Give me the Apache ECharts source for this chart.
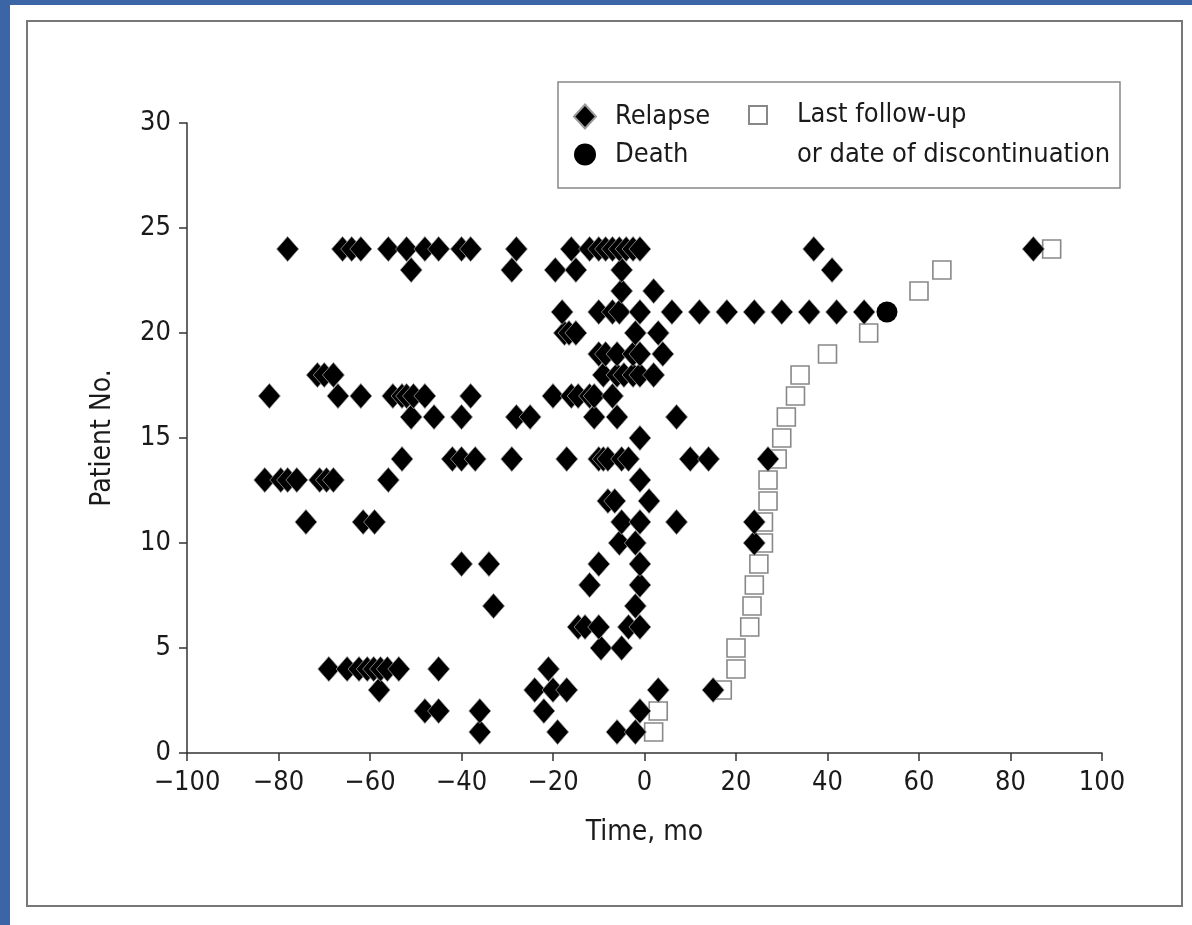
<!DOCTYPE html>
<html>
<head>
<meta charset="utf-8">
<script src="https://cdn.jsdelivr.net/npm/echarts@6/dist/echarts.min.js"></script>
<style>
  html, body { margin: 0; padding: 0; background: #fff; }
  #chart { width: 1192px; height: 925px; }
</style>
</head>
<body>
<div id="chart"></div>
<script>
// relapse times (months) for patients 1..24
const relapseTimes = [
  [-36, -19, -6, -2],
  [-48, -45, -36, -22, -1],
  [-58, -24, -20, -17, 3, 15],
  [-69, -65, -62.4, -60.6, -59.2, -57.7, -56.2, -53.7, -45, -21],
  [-9.5, -5],
  [-14.5, -13, -10, -3.5, -1],
  [-33, -2],
  [-12, -1],
  [-40, -34, -10, -1],
  [-5.5, -2, 24],
  [-74, -61.5, -59, -5, -1, 7, 24],
  [-8, -6.5, 1],
  [-83, -79.5, -78, -76, -71, -69.5, -68, -56, -1],
  [-53, -42, -40, -37, -29, -17, -10, -9, -8, -5, -3.5, 10, 14, 27],
  [-1],
  [-51, -46, -40, -28, -25, -11, -6, 7],
  [-82, -67, -62, -55, -53, -52, -50.5, -48, -38, -20, -16, -14.5, -12, -11, -7],
  [-71.5, -70, -68, -9, -6, -4.5, -2.5, -1, 2],
  [-10, -8.5, -6, -2.5, -1, 4],
  [-17.5, -16.5, -15, -2, 3],
  [-18, -10, -7, -5.5, -1, 6, 12, 18, 24, 30, 36, 42, 48],
  [-5, 2],
  [-51, -29, -19.5, -15, -5, 41],
  [-78, -66, -64, -62, -56, -52, -48, -45, -40, -38, -28, -16, -12, -10, -8.5, -7, -5.5, -4, -2.5, -1, 37, 85]
]
// last follow-up or discontinuation (months), patients 1..24 (21 hidden under death mark)
const lastFollowUp = [2, 3, 17, 20, 20, 23, 23.5, 24, 25, 26, 26, 27, 27, 29, 30, 31, 33, 34, 40, 49, null, 60, 65, 89]
const deathPatients = [21]
const deathTimes = [53]

const xTicks = {min: -100, max: 100, interval: 20}
const yTicks = {min: 0, max: 30, interval: 5}

const font = '"Liberation Sans Narrow", "DejaVu Sans Condensed", "Roboto Condensed", sans-serif'
const ink = '#1a1a1a'

const relapseData = []
relapseTimes.forEach((times, i) => times.forEach(t => relapseData.push([t, i + 1])))
const followData = []
lastFollowUp.forEach((t, i) => { if (t !== null) followData.push([t, i + 1]) })
const deathData = deathTimes.map((t, i) => [t, deathPatients[i]])

const chart = echarts.init(document.getElementById('chart'))
chart.setOption({
  backgroundColor: '#fff',
  animation: false,
  textStyle: {fontFamily: font},
  grid: {left: 187, right: 90, top: 123, bottom: 172},
  graphic: [
    {type: 'rect', shape: {x: 0, y: 0, width: 10, height: 925}, style: {fill: '#3b65a5'}, silent: true},
    {type: 'rect', shape: {x: 0, y: 0, width: 1192, height: 5}, style: {fill: '#3b65a5'}, silent: true},
    {type: 'rect', shape: {x: 27, y: 21, width: 1155, height: 885}, style: {fill: 'none', stroke: '#777', lineWidth: 2}, silent: true},
    {type: 'rect', shape: {x: 558, y: 82, width: 562, height: 106}, style: {fill: 'none', stroke: '#888', lineWidth: 1.5}, silent: true}
  ],
  legend: [
    {
      data: ['Relapse', 'Death'],
      orient: 'vertical',
      left: 568, top: 98,
      itemWidth: 22, itemHeight: 24, itemGap: 11,
      textStyle: {fontSize: 27, color: ink, fontFamily: font, padding: [0, 0, 0, 14]}
    },
    {
      data: ['Last follow-up\nor date of discontinuation'],
      orient: 'vertical',
      left: 743, top: 50,
      itemWidth: 18, itemHeight: 18,
      // blank first line so the icon sits beside the first text line
      formatter: name => '\n' + name,
      textStyle: {fontSize: 27, lineHeight: 40, color: ink, fontFamily: font, padding: [0, 0, 0, 25]}
    }
  ],
  xAxis: {
    type: 'value',
    min: xTicks.min, max: xTicks.max, interval: xTicks.interval,
    name: 'Time, mo', nameLocation: 'middle', nameGap: 66,
    nameTextStyle: {fontSize: 28, color: ink, fontFamily: font},
    axisLine: {onZero: false, lineStyle: {color: '#333', width: 1.5}},
    axisTick: {length: 8, lineStyle: {color: '#333', width: 1.5}},
    splitLine: {show: false},
    axisLabel: {fontSize: 27, color: ink, margin: 16, fontFamily: font,
      formatter: v => String(v).replace('-', '\u2212')}
  },
  yAxis: {
    type: 'value',
    min: yTicks.min, max: yTicks.max, interval: yTicks.interval,
    name: 'Patient No.', nameLocation: 'middle', nameGap: 70,
    nameTextStyle: {fontSize: 28, color: ink, fontFamily: font},
    axisLine: {show: true, onZero: false, lineStyle: {color: '#333', width: 1.5}},
    axisTick: {show: true, length: 8, lineStyle: {color: '#333', width: 1.5}},
    splitLine: {show: false},
    axisLabel: {fontSize: 27, color: ink, margin: 16, fontFamily: font}
  },
  series: [
    {
      name: 'Last follow-up\nor date of discontinuation',
      type: 'scatter',
      symbol: 'rect', symbolSize: 18,
      itemStyle: {color: '#fff', borderColor: '#888', borderWidth: 1.6, opacity: 1},
      data: followData,
      z: 2
    },
    {
      name: 'Relapse',
      type: 'scatter',
      symbol: 'diamond', symbolSize: [22, 25],
      itemStyle: {color: '#000', borderColor: '#9a9a9a', borderWidth: 0.8, opacity: 1},
      data: relapseData,
      z: 3
    },
    {
      name: 'Death',
      type: 'scatter',
      symbol: 'circle', symbolSize: 21,
      itemStyle: {color: '#000', opacity: 1},
      data: deathData,
      z: 4
    }
  ]
})
</script>
</body>
</html>
